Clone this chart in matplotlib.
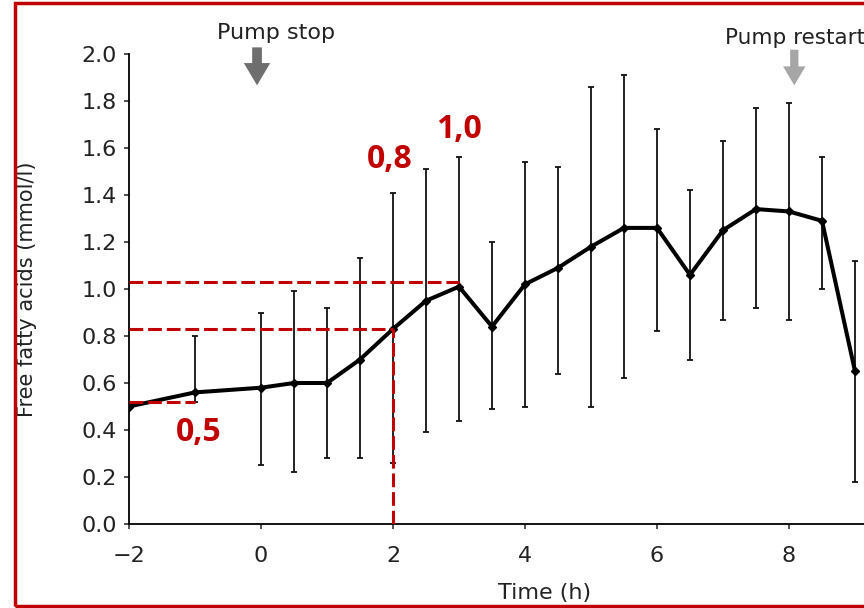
import matplotlib.pyplot as plt
from matplotlib.patches import Rectangle

plt.rcParams['font.family'] = ['DejaVu Sans']

# time (h), mean FFA, upper / lower ends of the error bars
time = [-2, -1, 0, 0.5, 1, 1.5, 2, 2.5, 3, 3.5, 4, 4.5, 5, 5.5, 6, 6.5, 7, 7.5, 8, 8.5, 9]
ffa = [0.50, 0.56, 0.58, 0.60, 0.60, 0.70, 0.83, 0.95, 1.01, 0.84, 1.02, 1.09, 1.18, 1.26, 1.26,
       1.06, 1.25, 1.34, 1.33, 1.29, 0.65]
upper = [0.50, 0.80, 0.90, 0.99, 0.92, 1.13, 1.41, 1.51, 1.56, 1.20, 1.54, 1.52, 1.86, 1.91, 1.68,
         1.42, 1.63, 1.77, 1.79, 1.56, 1.12]
lower = [0.50, 0.52, 0.25, 0.22, 0.28, 0.28, 0.26, 0.39, 0.44, 0.49, 0.50, 0.64, 0.50, 0.62, 0.82,
         0.70, 0.87, 0.92, 0.87, 1.00, 0.18]

yticks = [0.0, 0.2, 0.4, 0.6, 0.8, 1.0, 1.2, 1.4, 1.6, 1.8, 2.0]
xticks = [-2, 0, 2, 4, 6, 8]

red = '#c00000'
dash = (0, (4.5, 1.6))

fig = plt.figure(figsize=(8.64, 6.08), dpi=100)
ax = fig.add_axes([129 / 864, 84 / 608, 771 / 864, 470 / 608])
ax.set_xlim(-2, -2 + 771 / 66)
ax.set_ylim(0, 2.0)

yerr = [[m - lo for m, lo in zip(ffa, lower)], [up - m for m, up in zip(ffa, upper)]]
ax.errorbar(time, ffa, yerr=yerr, fmt='none', ecolor='#111111', elinewidth=1.3, capsize=2.5, capthick=1.3)
ax.plot(time, ffa, color='black', lw=2.9, marker='D', ms=4.5, mfc='black', mec='black', zorder=3)

# red guide lines
ax.plot([-2, 3], [1.03, 1.03], color=red, lw=2.2, ls=dash, zorder=4)
ax.plot([-2, 2], [0.83, 0.83], color=red, lw=2.2, ls=dash, zorder=4)
ax.plot([2, 2], [0, 0.83], color=red, lw=2.2, ls=dash, zorder=4)
ax.plot([-2, -1], [0.52, 0.52], color=red, lw=2.2, ls=dash, zorder=4)

rfont = dict(color=red, fontsize=23, fontweight='bold', family=['Open Sans', 'DejaVu Sans'],
             ha='center', va='center')
ax.text(-0.95, 0.39, '0,5', **rfont)
ax.text(1.95, 1.55, '0,8', **rfont)
ax.text(3.0, 1.68, '1,0', **rfont)

arrow = 'simple,head_width=0.95,head_length=0.8,tail_width=0.35'
ax.text(0.23, 2.09, 'Pump stop', fontsize=16, ha='center', va='center', color='#222222', clip_on=False)
ax.annotate('', xy=(-0.06, 1.855), xytext=(-0.06, 2.04),
            arrowprops=dict(arrowstyle=arrow, mutation_scale=20, color='#6e6e6e', lw=0),
            annotation_clip=False)
ax.text(7.03, 2.07, 'Pump restart', fontsize=15.5, ha='left', va='center', color='#222222', clip_on=False)
ax.annotate('', xy=(8.08, 1.855), xytext=(8.08, 2.03),
            arrowprops=dict(arrowstyle=arrow, mutation_scale=17, color='#a6a6a6', lw=0),
            annotation_clip=False)

ax.spines['top'].set_visible(False)
ax.spines['right'].set_visible(False)
ax.spines['left'].set_linewidth(1.3)
ax.spines['bottom'].set_linewidth(1.3)
ax.set_xticks(xticks)
ax.set_xticklabels(['\u22122' if t == -2 else str(t) for t in xticks])
ax.set_yticks(yticks)
ax.set_yticklabels(['%.1f' % v for v in yticks])
ax.tick_params(labelsize=16, length=3.5, width=1.1, colors='#222222')
ax.tick_params(axis='x', pad=12)
ax.tick_params(axis='y', pad=5)
ax.set_xlabel('Time (h)', fontsize=16, color='#222222', va='center')
ax.xaxis.set_label_coords((545 - 129) / 771, (524 - 593) / 470)
ax.set_ylabel('Free fatty acids (mmol/l)', fontsize=15, color='#222222', va='center')
ax.yaxis.set_label_coords((27 - 129) / 771, (524 - 289) / 470)

# red frame around the slide crop
fig.patches.append(Rectangle((15 / 864, 2 / 608), 1.0, 603 / 608, transform=fig.transFigure,
                             fill=False, edgecolor=red, lw=2.5))

fig.savefig('out.png', dpi=100)
